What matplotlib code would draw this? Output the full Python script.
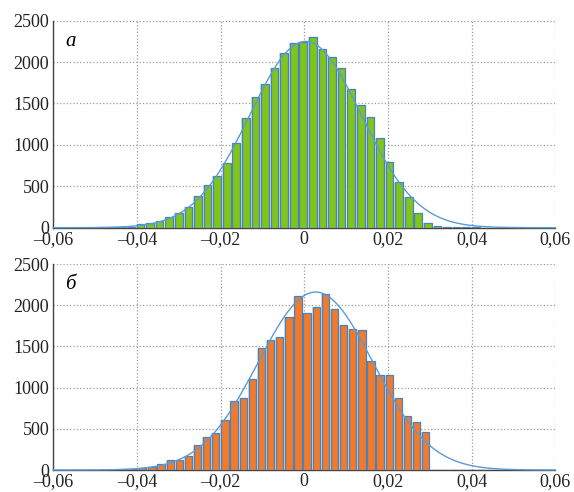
import numpy as np
import matplotlib
matplotlib.use("Agg")
import matplotlib.pyplot as plt

plt.rcParams['font.family'] = ['Liberation Serif', 'DejaVu Serif']

# Гистограмма (а): ширина бина и центр нулевого бина
a_binw = 0.00229
a_c0 = -0.00024
a_k = list(range(-21, 19))
a_counts = [3, 4, 5, 5, 40, 52, 76, 133, 181, 245, 382, 511, 628, 785, 1018, 1320,
            1582, 1731, 1928, 2105, 2226, 2246, 2298, 2161, 2057, 1928, 1674, 1477,
            1332, 1083, 793, 551, 366, 181, 60, 16, 5, 4, 3, 3]
# нормальная аппроксимация (а)
a_mu, a_sigma, a_peak = 0.0003, 0.0133, 2250

# Гистограмма (б)
b_binw = 0.002182
b_c0 = -0.00151
b_k = list(range(-21, 25))
b_counts = [4, 5, 12, 16, 24, 40, 72, 117, 125, 165, 306, 402, 455, 608, 833, 877,
            1103, 1485, 1582, 1610, 1855, 2117, 1904, 1976, 2137, 1948, 1763, 1715,
            1699, 1324, 1159, 1147, 877, 652, 580, 467, 0, 0, 0, 0, 0, 0, 3, 4, 4, 3]
b_mu, b_sigma, b_peak = 0.0027, 0.0137, 2160

xticks = [-0.06, -0.04, -0.02, 0, 0.02, 0.04, 0.06]
xlabels = ['–0,06', '–0,04', '–0,02', '0', '0,02', '0,04', '0,06']
yticks = [0, 500, 1000, 1500, 2000, 2500]


def draw(ax, k, counts, c0, binw, mu, sigma, peak, color, letter):
    x = c0 + np.array(k) * binw
    counts = np.array(counts)
    ax.bar(x, counts, width=binw * 0.98, color='#cfe1f2', zorder=2)
    ax.bar(x, counts, width=binw * 0.8, color=color, edgecolor='#4583c2',
           linewidth=0.9, zorder=3)
    xx = np.linspace(-0.06, 0.06, 600)
    ax.plot(xx, peak * np.exp(-(xx - mu) ** 2 / (2 * sigma ** 2)),
            color='#5b9bd5', lw=1.0, zorder=4, clip_on=False)
    ax.set_xlim(-0.06, 0.06)
    ax.set_ylim(0, 2500)
    ax.set_xticks(xticks)
    ax.set_xticklabels(xlabels)
    ax.set_yticks(yticks)
    ax.tick_params(length=0, labelsize=13, colors='#222222')
    ax.tick_params(axis='x', pad=2.5)
    ax.tick_params(axis='y', pad=3)
    ax.grid(True, linestyle=':', color='#9a9a9a', linewidth=0.9, zorder=0)
    ax.set_axisbelow(True)
    for s in ['top', 'right']:
        ax.spines[s].set_visible(False)
    for s in ['left', 'bottom']:
        ax.spines[s].set_color('#444444')
        ax.spines[s].set_linewidth(1.0)
    ax.text(0.024, 0.9, letter, transform=ax.transAxes, fontsize=15,
            style='italic', ha='left', va='center')


fig = plt.figure(figsize=(5.74, 4.92), dpi=100)
ax1 = fig.add_axes([0.0929, 0.5372, 0.8745, 0.4208])
ax2 = fig.add_axes([0.0929, 0.0447, 0.8745, 0.4187])

draw(ax1, a_k, a_counts, a_c0, a_binw, a_mu, a_sigma, a_peak, '#80c41c', 'а')
draw(ax2, b_k, b_counts, b_c0, b_binw, b_mu, b_sigma, b_peak, '#f37a2a', 'б')

fig.savefig('out.png', dpi=100)
